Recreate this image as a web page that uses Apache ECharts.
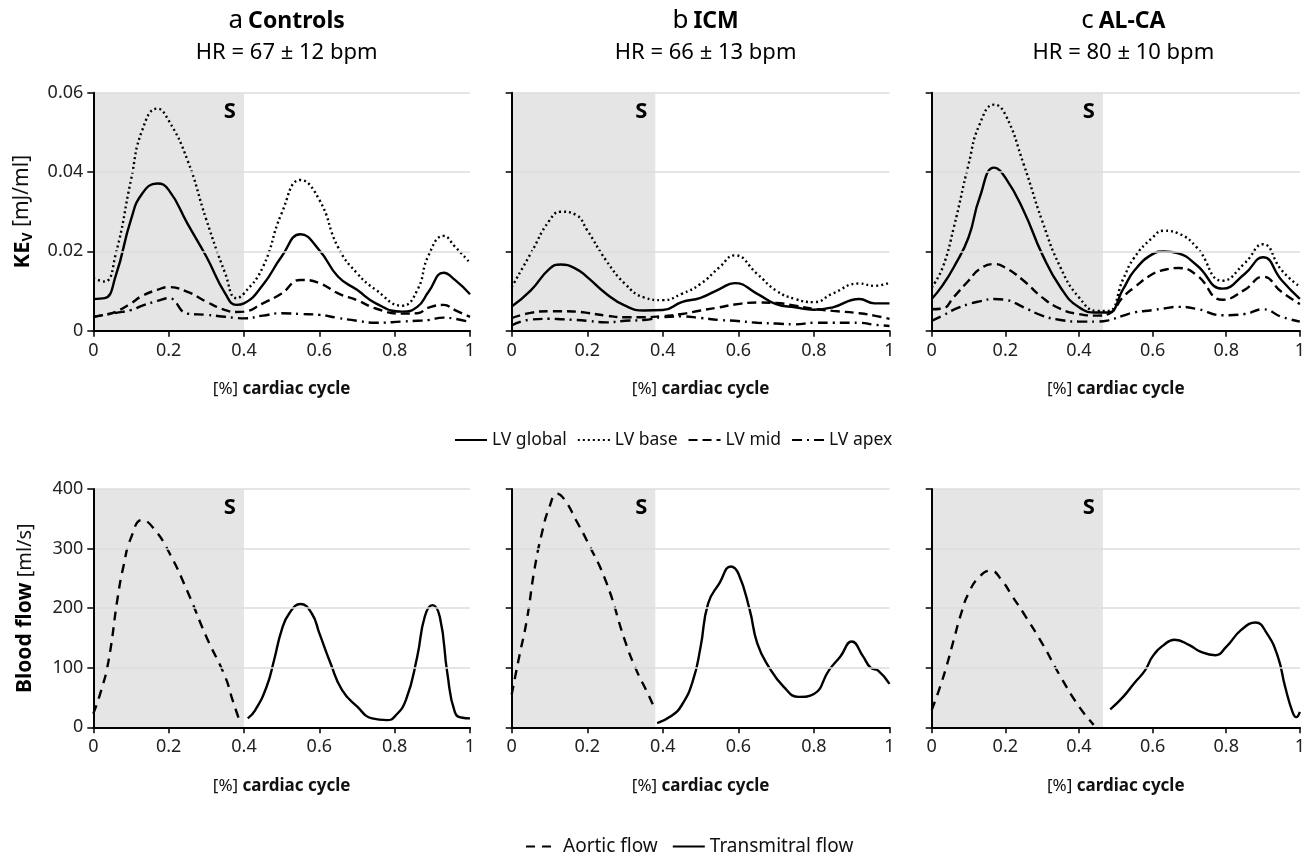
<!DOCTYPE html>
<html>
<head>
<meta charset="utf-8">
<script src="https://cdn.jsdelivr.net/npm/echarts@6/dist/echarts.min.js"></script>
<style>
html, body { margin: 0; padding: 0; background: #fff; }
#chart { width: 1308px; height: 855px; }
</style>
</head>
<body>
<div id="chart"></div>
<script>
// ---- KE_V [mJ/ml] vs fraction of cardiac cycle ----
const ctrlX      = [0, 0.03, 0.06, 0.1, 0.13, 0.17, 0.2, 0.25, 0.3, 0.35, 0.38, 0.4, 0.45, 0.5, 0.55, 0.6, 0.65, 0.7, 0.75, 0.82, 0.86, 0.89, 0.93, 0.96, 1]
const ctrlGlobal = [0.008, 0.0082, 0.014, 0.028, 0.0346, 0.0371, 0.0355, 0.027, 0.0187, 0.0094, 0.0065, 0.0069, 0.0115, 0.0187, 0.0243, 0.0203, 0.0136, 0.0103, 0.0069, 0.0048, 0.006, 0.0098, 0.0146, 0.0128, 0.0092]
const ctrlBase   = [0.0132, 0.0124, 0.0195, 0.038, 0.0506, 0.056, 0.053, 0.043, 0.028, 0.0145, 0.0082, 0.0094, 0.016, 0.0296, 0.038, 0.033, 0.021, 0.0145, 0.0103, 0.0063, 0.0102, 0.019, 0.0239, 0.0212, 0.0171]
const ctrlMid    = [0.0035, 0.004, 0.0048, 0.0069, 0.0088, 0.0103, 0.011, 0.0098, 0.0073, 0.0052, 0.0047, 0.0048, 0.0069, 0.0094, 0.0128, 0.012, 0.0094, 0.0077, 0.0056, 0.0043, 0.0044, 0.0058, 0.0065, 0.0052, 0.0035]
const ctrlApex   = [0.0035, 0.004, 0.0045, 0.0052, 0.0063, 0.0075, 0.0082, 0.0043, 0.004, 0.0035, 0.0032, 0.0031, 0.0038, 0.0044, 0.0042, 0.004, 0.0032, 0.0025, 0.002, 0.0023, 0.0025, 0.0027, 0.0033, 0.003, 0.0022]

const icmX      = [0, 0.05, 0.1, 0.13, 0.17, 0.2, 0.25, 0.3, 0.35, 0.4, 0.45, 0.5, 0.55, 0.59, 0.65, 0.7, 0.75, 0.8, 0.85, 0.92, 0.96, 1]
const icmGlobal = [0.0061, 0.0101, 0.0156, 0.0167, 0.0156, 0.0135, 0.0093, 0.0063, 0.0051, 0.0052, 0.0072, 0.0083, 0.0105, 0.012, 0.0093, 0.0067, 0.0059, 0.0053, 0.0059, 0.008, 0.0069, 0.0069]
const icmBase   = [0.011, 0.0194, 0.0278, 0.03, 0.0292, 0.0253, 0.0177, 0.0118, 0.0084, 0.0077, 0.0093, 0.0118, 0.016, 0.019, 0.0143, 0.0101, 0.008, 0.0072, 0.0094, 0.0119, 0.0113, 0.0121]
const icmMid    = [0.0032, 0.0045, 0.0049, 0.0049, 0.0048, 0.0045, 0.0038, 0.0034, 0.0034, 0.0037, 0.0042, 0.0051, 0.0059, 0.0066, 0.0071, 0.007, 0.0063, 0.0055, 0.005, 0.0044, 0.0038, 0.003]
const icmApex   = [0.0013, 0.0028, 0.003, 0.0029, 0.0027, 0.0025, 0.0021, 0.0025, 0.0027, 0.0034, 0.0036, 0.0032, 0.0027, 0.0025, 0.002, 0.0018, 0.0016, 0.002, 0.002, 0.002, 0.0015, 0.0012]

const alcaX      = [0, 0.03, 0.06, 0.1, 0.13, 0.17, 0.2, 0.25, 0.3, 0.35, 0.4, 0.45, 0.48, 0.52, 0.55, 0.6, 0.63, 0.67, 0.72, 0.79, 0.85, 0.9, 0.95, 1]
const alcaGlobal = [0.008, 0.0115, 0.016, 0.0235, 0.0335, 0.0411, 0.0386, 0.0302, 0.0193, 0.0109, 0.0059, 0.0046, 0.0046, 0.0105, 0.0151, 0.0193, 0.02, 0.0195, 0.0165, 0.0106, 0.0143, 0.0185, 0.0128, 0.008]
const alcaBase   = [0.0109, 0.016, 0.026, 0.0419, 0.052, 0.057, 0.0545, 0.0419, 0.0277, 0.0159, 0.0084, 0.005, 0.005, 0.013, 0.0184, 0.0235, 0.0252, 0.0245, 0.021, 0.0126, 0.017, 0.0218, 0.0153, 0.0111]
const alcaMid    = [0.0054, 0.0056, 0.0085, 0.0126, 0.0155, 0.0168, 0.0159, 0.0126, 0.0084, 0.0055, 0.0042, 0.0038, 0.0042, 0.0085, 0.0109, 0.0143, 0.0153, 0.0158, 0.014, 0.0078, 0.0103, 0.0136, 0.0098, 0.0067]
const alcaApex   = [0.0025, 0.0038, 0.0053, 0.0067, 0.0074, 0.008, 0.0078, 0.0059, 0.0038, 0.0027, 0.0023, 0.0023, 0.0026, 0.0038, 0.0046, 0.0052, 0.0056, 0.006, 0.0055, 0.0039, 0.0042, 0.0054, 0.0035, 0.0023]

// ---- blood flow [ml/s] ----
const ctrlAorticX = [0, 0.02, 0.04, 0.065, 0.08, 0.1, 0.13, 0.16, 0.2, 0.25, 0.3, 0.35, 0.37, 0.39]
const ctrlAortic  = [23, 60, 110, 219, 270, 318, 348, 334, 295, 228, 152, 85, 45, 8]
const ctrlMitralX = [0.41, 0.43, 0.46, 0.48, 0.5, 0.52, 0.55, 0.58, 0.6, 0.63, 0.66, 0.7, 0.74, 0.78, 0.8, 0.83, 0.86, 0.88, 0.9, 0.92, 0.94, 0.96, 0.98, 1]
const ctrlMitral  = [15, 29, 68, 113, 163, 191, 207, 191, 158, 107, 63, 35, 15, 12, 18, 46, 119, 186, 205, 185, 90, 25, 16, 15]

const icmAorticX = [0, 0.02, 0.04, 0.06, 0.08, 0.1, 0.12, 0.14, 0.17, 0.2, 0.25, 0.3, 0.33, 0.36, 0.38]
const icmAortic  = [55, 119, 180, 264, 326, 370, 392, 382, 348, 312, 244, 145, 96, 57, 29]
const icmMitralX = [0.385, 0.42, 0.45, 0.48, 0.5, 0.52, 0.55, 0.58, 0.6, 0.63, 0.65, 0.68, 0.72, 0.76, 0.8, 0.84, 0.87, 0.9, 0.93, 0.95, 0.97, 1]
const icmMitral  = [7, 18, 37, 79, 135, 208, 242, 270, 258, 197, 141, 102, 68, 51, 56, 96, 119, 144, 119, 100, 95, 73]

const alcaAorticX = [0, 0.02, 0.04, 0.06, 0.08, 0.1, 0.13, 0.16, 0.19, 0.22, 0.25, 0.3, 0.35, 0.4, 0.44]
const alcaAortic  = [29, 63, 102, 147, 191, 225, 253, 263, 247, 219, 191, 141, 85, 35, 4]
const alcaMitralX = [0.485, 0.52, 0.55, 0.58, 0.6, 0.63, 0.66, 0.7, 0.73, 0.77, 0.8, 0.84, 0.88, 0.91, 0.94, 0.96, 0.98, 0.99, 1]
const alcaMitral  = [30, 51, 74, 96, 119, 138, 147, 138, 127, 121, 135, 163, 176, 158, 119, 68, 26, 17, 26]

// end of systole (shaded "S" band)
const systoleEnd = [0.4, 0.38, 0.465]
const groupLetters = ['a', 'b', 'c']
const groupNames = ['Controls', 'ICM', 'AL-CA']
const heartRates = ['HR = 67 ± 12 bpm', 'HR = 66 ± 13 bpm', 'HR = 80 ± 10 bpm']
const xTicks = { min: 0, max: 1, interval: 0.2 }

const FONT = 'Noto Sans'
const zip = (xs, ys) => xs.map((x, i) => [x, ys[i]])

const keData = [
  { x: ctrlX, global: ctrlGlobal, base: ctrlBase, mid: ctrlMid, apex: ctrlApex },
  { x: icmX, global: icmGlobal, base: icmBase, mid: icmMid, apex: icmApex },
  { x: alcaX, global: alcaGlobal, base: alcaBase, mid: alcaMid, apex: alcaApex }
]
const flowData = [
  { ax: ctrlAorticX, a: ctrlAortic, mx: ctrlMitralX, m: ctrlMitral },
  { ax: icmAorticX, a: icmAortic, mx: icmMitralX, m: icmMitral },
  { ax: alcaAorticX, a: alcaAortic, mx: alcaMitralX, m: alcaMitral }
]

const lefts = [93.3, 511.7, 931.7]
const widths = [376.7, 377.8, 373.3]

const grid = []
const xAxis = []
const yAxis = []
const series = []
const title = []

function lineSeries(name, idx, data, dash) {
  return {
    name: name,
    type: 'line',
    xAxisIndex: idx,
    yAxisIndex: idx,
    data: data,
    symbol: 'none',
    smooth: 0.5,
    lineStyle: { color: '#000', width: 2.4, type: dash, cap: 'butt' },
    itemStyle: { color: '#000' }
  }
}

function shade(end) {
  return {
    silent: true,
    itemStyle: { color: '#e5e5e5' },
    label: {
      show: true,
      position: 'insideTopRight',
      distance: 8,
      formatter: 'S',
      fontFamily: FONT,
      fontWeight: 'bold',
      fontSize: 22,
      color: '#000'
    },
    data: [[{ xAxis: 0 }, { xAxis: end }]]
  }
}

for (let row = 0; row < 2; row++) {
  for (let p = 0; p < 3; p++) {
    const idx = row * 3 + p
    grid.push({
      left: lefts[p],
      width: widths[p],
      top: row === 0 ? 92.7 : 489,
      height: row === 0 ? 238 : 238.3
    })
    xAxis.push({
      gridIndex: idx,
      type: 'value',
      min: xTicks.min,
      max: xTicks.max,
      interval: xTicks.interval,
      z: 5,
      axisLine: { show: true, onZero: false, lineStyle: { color: '#000', width: 2 } },
      axisTick: { show: true, length: 6, lineStyle: { color: '#000', width: 1.5 } },
      axisLabel: { fontFamily: FONT, fontSize: 18, color: '#222', margin: 11 },
      splitLine: { show: false },
      name: '{n|[%] }{b|cardiac cycle}',
      nameLocation: 'middle',
      nameGap: 50,
      nameTextStyle: {
        rich: {
          n: { fontFamily: FONT, fontSize: 17, color: '#111' },
          b: { fontFamily: FONT, fontSize: 17, fontWeight: 'bold', color: '#111' }
        }
      }
    })
    const y = {
      gridIndex: idx,
      type: 'value',
      min: 0,
      max: row === 0 ? 0.06 : 400,
      interval: row === 0 ? 0.02 : 100,
      z: 5,
      axisLine: { show: true, lineStyle: { color: '#000', width: 2 } },
      axisTick: { show: true, length: 6, lineStyle: { color: '#000', width: 1.5 } },
      axisLabel: { show: p === 0, fontFamily: FONT, fontSize: 18, color: '#222', margin: 10 },
      splitLine: { show: true, lineStyle: { color: '#dcdcdc', width: 1.5 } }
    }
    if (p === 0) {
      y.nameLocation = 'middle'
      y.nameGap = 58
      if (row === 0) {
        y.name = '{k|KE}{s|V}{n| [mJ/ml]}'
        y.nameTextStyle = {
          rich: {
            k: { fontFamily: FONT, fontSize: 22, fontWeight: 'bold', color: '#000' },
            s: { fontFamily: FONT, fontSize: 14, fontWeight: 'bold', color: '#000', padding: [12, 0, 0, 0] },
            n: { fontFamily: FONT, fontSize: 21, color: '#111' }
          }
        }
      } else {
        y.name = '{k|Blood flow}{n| [ml/s]}'
        y.nameTextStyle = {
          rich: {
            k: { fontFamily: FONT, fontSize: 21, fontWeight: 'bold', color: '#000' },
            n: { fontFamily: FONT, fontSize: 20, color: '#111' }
          }
        }
      }
    }
    yAxis.push(y)

    if (row === 0) {
      const d = keData[p]
      const g = lineSeries('LV global', idx, zip(d.x, d.global), 'solid')
      g.markArea = shade(systoleEnd[p])
      series.push(g)
      series.push(lineSeries('LV base', idx, zip(d.x, d.base), [2, 3]))
      series.push(lineSeries('LV mid', idx, zip(d.x, d.mid), [9, 5]))
      series.push(lineSeries('LV apex', idx, zip(d.x, d.apex), [10, 5, 2, 5]))
    } else {
      const f = flowData[p]
      const a = lineSeries('Aortic flow', idx, zip(f.ax, f.a), [9, 7])
      a.markArea = shade(systoleEnd[p])
      series.push(a)
      series.push(lineSeries('Transmitral flow', idx, zip(f.mx, f.m), 'solid'))
    }
  }
}

for (let p = 0; p < 3; p++) {
  title.push({
    text: '{l|' + groupLetters[p] + '} {b|' + groupNames[p] + '}',
    subtext: heartRates[p],
    left: lefts[p] + widths[p] / 2,
    textAlign: 'center',
    top: 3,
    itemGap: 8,
    textStyle: {
      rich: {
        l: { fontFamily: FONT, fontSize: 26, fontWeight: 'normal', color: '#000' },
        b: { fontFamily: FONT, fontSize: 23, fontWeight: 'bold', color: '#000' }
      }
    },
    subtextStyle: { fontFamily: FONT, fontSize: 22, color: '#000' }
  })
}

const legendCommon = {
  left: 'center',
  itemWidth: 32,
  itemHeight: 12,
  itemStyle: { opacity: 0 }
}

const chart = echarts.init(document.getElementById('chart'), null, { renderer: 'canvas' })
chart.setOption({
  animation: false,
  backgroundColor: '#fff',
  title: title,
  legend: [
    Object.assign({}, legendCommon, {
      data: ['LV global', 'LV base', 'LV mid', 'LV apex'],
      top: 426,
      left: 449,
      itemGap: 10,
      textStyle: { fontFamily: FONT, fontSize: 17.5, color: '#111' }
    }),
    Object.assign({}, legendCommon, {
      data: ['Aortic flow', 'Transmitral flow'],
      top: 832,
      left: 520,
      itemGap: 14,
      textStyle: { fontFamily: FONT, fontSize: 19, color: '#111' }
    })
  ],
  grid: grid,
  xAxis: xAxis,
  yAxis: yAxis,
  series: series
})
</script>
</body>
</html>
